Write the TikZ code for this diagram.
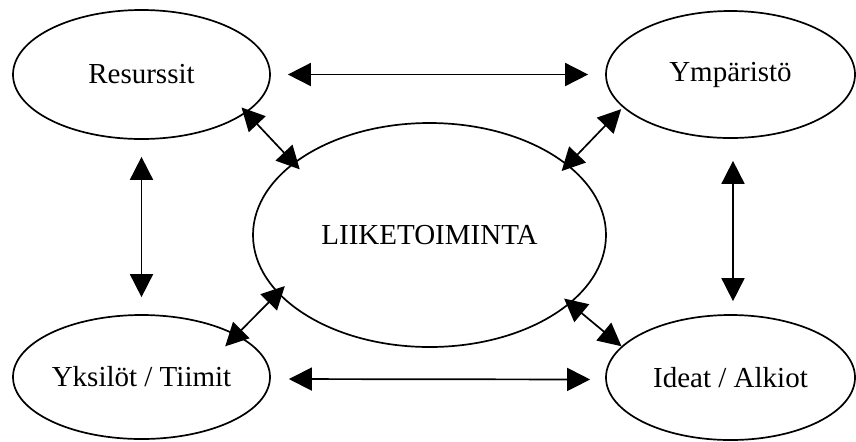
\documentclass[tikz,border=0pt]{standalone}
\usepackage{fontspec}
\setmainfont{Liberation Serif}
\usetikzlibrary{arrows.meta}
\usetikzlibrary{shapes.geometric}

\begin{document}
\begin{tikzpicture}[<->,>={Triangle[length=11.5pt,width=11.5pt]},line width=.85pt,
                    x=.5pt,y=-.5pt,
                    every node/.style={font=\fontsize{14.5}{17}\selectfont},
                    blob/.style={ellipse,draw,inner sep=0pt}]
\useasboundingbox (0,0) rectangle (856,441);
\node[blob,minimum width=176.5pt,minimum height=112pt] (liike) at (429.5,235) {LIIKETOIMINTA};
\node[blob,minimum width=128.5pt,minimum height=64.5pt] (res) at (141.5,74.5) {Resurssit};
\node[blob,minimum width=124.5pt,minimum height=63.5pt] (ymp) at (730.5,74.5) {Ympäristö};
\node[blob,minimum width=128.5pt,minimum height=62pt] (yks) at (141.5,377) {Yksilöt / Tiimit};
\node[blob,minimum width=124.5pt,minimum height=62.5pt] (ide) at (730.5,377.5) {Ideat / Alkiot};
\path (res.east) edge [shorten <=8.5pt,shorten >=8.5pt] (ymp.west)
      (res.south) edge [shorten <=8.5pt,shorten >=8.5pt] (yks.north)
      ([xshift=1.25pt]ymp.south) edge [shorten <=11pt,shorten >=6.5pt] ([xshift=1.25pt]ide.north)
      ([yshift=-1pt]yks.east) edge [shorten <=9pt,shorten >=7.5pt] ([yshift=-1pt]ide.west)
      (res.-20.5) edge [shorten <=-3.6pt,shorten >=-4.6pt] (liike.152.2)
      (ymp.-163.6) edge [shorten <=1.2pt,shorten >=-4.55pt] (liike.27.7)
      (yks.24.9) edge [shorten <=-8.3pt,shorten >=-5.1pt] (liike.-159.4)
      (liike.-26.9) edge [shorten <=-4pt] (ide.164.2);
\end{tikzpicture}
\end{document}
